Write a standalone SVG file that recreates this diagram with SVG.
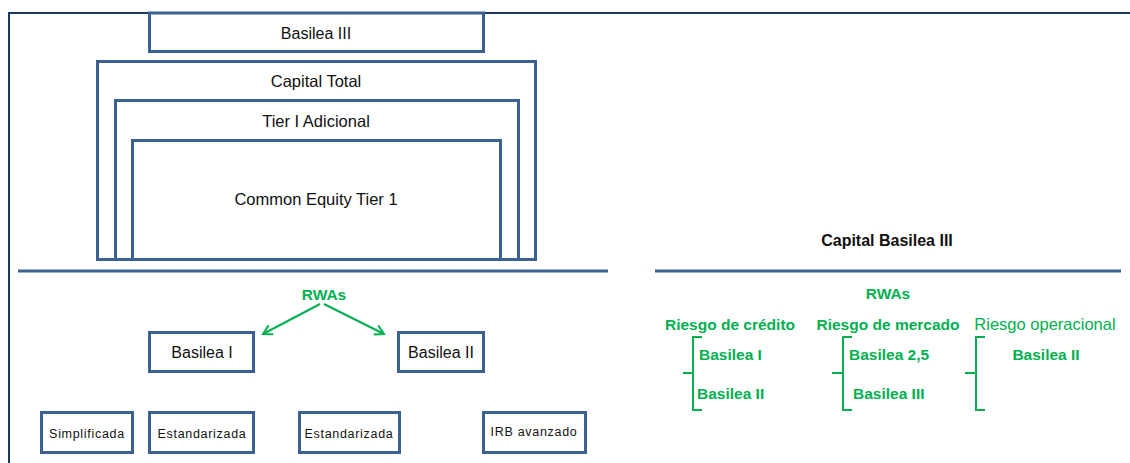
<svg xmlns="http://www.w3.org/2000/svg" width="1130" height="463" viewBox="0 0 1130 463">
<defs>
<style>
.box{fill:#fff;stroke:#3B6092;stroke-width:3}
.frame{fill:none;stroke:#1B3A63;stroke-width:2}
.sep{stroke:#3B6092;stroke-width:3}
.t{font-family:"Liberation Sans",Arial,sans-serif;fill:#111;text-anchor:middle}
.s{font-size:12.5px;letter-spacing:0.7px}
.g{font-family:"Liberation Sans",Arial,sans-serif;fill:#00B050;font-weight:bold;font-size:15.5px}
.gn{font-family:"Liberation Sans",Arial,sans-serif;fill:#00B050;font-size:16.5px}
.br{fill:none;stroke:#00B050;stroke-width:2}
.arr{stroke:#00B050;stroke-width:2;fill:none}
</style>
<marker id="ah" markerWidth="12" markerHeight="12" refX="10" refY="6" orient="auto" markerUnits="userSpaceOnUse">
<path d="M1,1 L10,6 L1,11" fill="none" stroke="#00B050" stroke-width="2"/>
</marker>
</defs>
<rect width="1130" height="463" fill="#fff"/>
<path class="frame" d="M9,463 V13 H1130"/>
<g id="capital-total"><rect class="box" x="97.5" y="61.5" width="438" height="198"/><text class="t" x="316" y="87" font-size="16.5">Capital Total</text></g>
<g id="tier1"><rect class="box" x="115.5" y="100.5" width="403" height="159"/><text class="t" x="316" y="127" font-size="16.5">Tier I Adicional</text></g>
<g id="cet1"><rect class="box" x="132.5" y="140.5" width="368" height="119"/><text class="t" x="316" y="205" font-size="16.5">Common Equity Tier 1</text></g>
<g id="basilea3"><rect class="box" x="149.5" y="13" width="334" height="38.5"/><text class="t" x="316" y="39" font-size="16">Basilea III</text></g>
<line class="sep" x1="18" y1="271" x2="608" y2="271"/>
<line class="sep" x1="655" y1="271" x2="1121" y2="271"/>
<g id="rwas-left"><text class="g" x="324" y="300" text-anchor="middle" font-size="16">RWAs</text></g>
<g id="connectors">
<line class="arr" x1="320" y1="304" x2="263" y2="334" marker-end="url(#ah)"/>
<line class="arr" x1="324" y1="304" x2="384" y2="334" marker-end="url(#ah)"/>
</g>
<g id="basilea1"><rect class="box" x="149.5" y="332.5" width="104" height="39"/><text class="t" x="202" y="358" font-size="16">Basilea I</text></g>
<g id="basilea2"><rect class="box" x="398.5" y="332.5" width="85" height="39"/><text class="t" x="441" y="358" font-size="16">Basilea II</text></g>
<g id="simplificada"><rect class="box" x="41.5" y="412.5" width="91" height="40"/><text class="t s" x="87" y="438">Simplificada</text></g>
<g id="estandarizada1"><rect class="box" x="149.5" y="412.5" width="104" height="40"/><text class="t s" x="202" y="438">Estandarizada</text></g>
<g id="estandarizada2"><rect class="box" x="299.5" y="412.5" width="100" height="40"/><text class="t s" x="349" y="438">Estandarizada</text></g>
<g id="irb"><rect class="box" x="483.5" y="412.5" width="102" height="40"/><text class="t s" x="534" y="436">IRB avanzado</text></g>
<g id="capital-basilea3"><text class="t" x="887" y="246" font-size="16" font-weight="bold">Capital Basilea III</text></g>
<g id="rwas-right"><text class="g" x="888" y="299" text-anchor="middle" font-size="16">RWAs</text></g>
<g id="credito">
<text class="g" x="730" y="330" text-anchor="middle">Riesgo de crédito</text>
<path class="br" d="M702,337 H693 V410 H702 M693,373 H683"/>
<text class="g" x="699" y="360">Basilea I</text>
<text class="g" x="697" y="399">Basilea II</text>
</g>
<g id="mercado">
<text class="g" x="888" y="330" text-anchor="middle">Riesgo de mercado</text>
<path class="br" d="M852,337 H843 V410 H852 M843,373 H832"/>
<text class="g" x="849" y="360">Basilea 2,5</text>
<text class="g" x="853" y="399">Basilea III</text>
</g>
<g id="operacional">
<text class="gn" x="1045" y="330" text-anchor="middle">Riesgo operacional</text>
<path class="br" d="M985,337 H976 V410 H985 M976,373 H965"/>
<text class="g" x="1046" y="360" text-anchor="middle">Basilea II</text>
</g>
</svg>
